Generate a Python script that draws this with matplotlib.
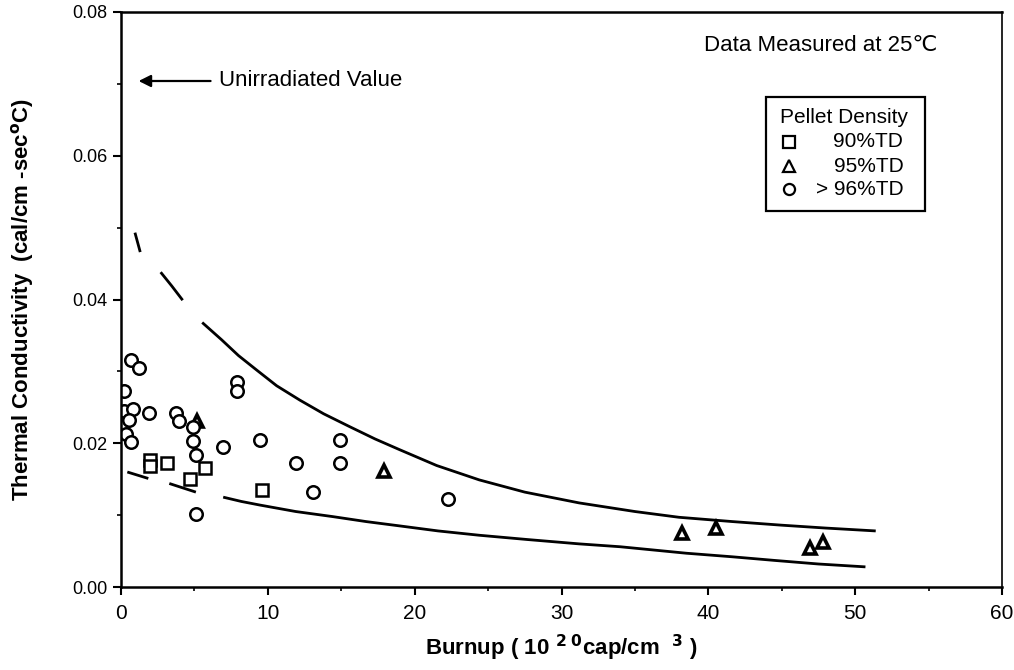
import matplotlib
matplotlib.use("Agg")
import matplotlib.pyplot as plt
from matplotlib.patches import Rectangle
from matplotlib.ticker import MultipleLocator, FormatStrFormatter
from matplotlib import font_manager

plt.rcParams['font.family'] = ['Liberation Sans', 'DejaVu Sans']
names = {f.name for f in font_manager.fontManager.ttflist}
narrow = 'Liberation Sans Narrow' if 'Liberation Sans Narrow' in names else 'Liberation Sans'

# ---- data ----
sq_x = [2.0, 2.0, 3.1, 4.7, 5.7, 9.6]
sq_y = [0.0177, 0.0168, 0.0173, 0.0150, 0.0166, 0.0135]

tri_x = [5.15, 17.9, 38.2, 40.5, 46.9, 47.8]
tri_y = [0.0231, 0.0161, 0.0075, 0.0082, 0.0054, 0.0062]

circ_x = [0.66, 1.25, 0.2, 0.2, 0.8, 0.57, 0.34, 0.66, 1.93, 3.74, 3.97, 4.88,
          4.92, 5.1, 5.1, 6.92, 7.91, 7.91, 9.46, 11.95, 13.08, 14.94, 14.94, 22.3]
circ_y = [0.0316, 0.0305, 0.0273, 0.0245, 0.0247, 0.0233, 0.0213, 0.0202, 0.0242,
          0.0242, 0.0231, 0.0222, 0.0203, 0.0184, 0.0101, 0.0195, 0.0285, 0.0273,
          0.0204, 0.0173, 0.0132, 0.0204, 0.0173, 0.0123]

# upper bound curve: two dashes then solid
up_d1_x = [0.95, 1.31]
up_d1_y = [0.0493, 0.0466]
up_d2_x = [2.70, 3.45, 4.20]
up_d2_y = [0.0438, 0.0419, 0.0399]
up_x = [5.53, 6.85, 8.0, 9.23, 10.6, 12.18, 13.8, 15.58, 17.3, 18.98, 21.5, 24.4,
        27.5, 31.2, 35.0, 38.0, 41.65, 45.0, 48.0, 51.4]
up_y = [0.0368, 0.0344, 0.0322, 0.0302, 0.0280, 0.0260, 0.0241, 0.0223, 0.0206,
        0.0191, 0.0169, 0.0149, 0.0132, 0.0117, 0.0105, 0.0097, 0.0091, 0.0086,
        0.0082, 0.0078]

# lower bound curve: two dashes then solid
lo_d1_x = [0.43, 1.86]
lo_d1_y = [0.0160, 0.0151]
lo_d2_x = [3.29, 5.1]
lo_d2_y = [0.0144, 0.0132]
lo_x = [6.96, 8.2, 9.46, 11.9, 14.4, 16.7, 18.98, 21.6, 24.4, 27.7, 31.2, 34.0,
        36.0, 38.5, 41.65, 44.5, 47.5, 50.7]
lo_y = [0.0125, 0.0119, 0.0114, 0.0105, 0.0098, 0.0091, 0.0085, 0.0078, 0.0072,
        0.0066, 0.0060, 0.0056, 0.0052, 0.0047, 0.0042, 0.0037, 0.0032, 0.0028]

x_ticks = [0, 10, 20, 30, 40, 50, 60]
y_ticks = [0.00, 0.02, 0.04, 0.06, 0.08]

fig = plt.figure(figsize=(10.14, 6.70), dpi=100)
ax = fig.add_axes([121/1014, 83/670, 881/1014, 575/670])

lw = 2.0
for xs, ys in [(up_d1_x, up_d1_y), (up_d2_x, up_d2_y), (up_x, up_y),
               (lo_d1_x, lo_d1_y), (lo_d2_x, lo_d2_y), (lo_x, lo_y)]:
    ax.plot(xs, ys, color='black', lw=lw, solid_capstyle='butt',
            solid_joinstyle='round')

mk = dict(linestyle='none', markerfacecolor='white', markeredgecolor='black',
          markeredgewidth=1.8)
ax.plot(sq_x, sq_y, marker='s', markersize=8.5, **mk)
ax.plot(tri_x, tri_y, marker='^', markersize=8.5, **dict(mk, markeredgewidth=2.6))
ax.plot(circ_x, circ_y, marker='o', markersize=9, **mk)

ax.set_xlim(0, 60)
ax.set_ylim(0, 0.08)
ax.set_xticks(x_ticks)
ax.set_yticks(y_ticks)
ax.xaxis.set_minor_locator(MultipleLocator(5))
ax.yaxis.set_minor_locator(MultipleLocator(0.01))
ax.yaxis.set_major_formatter(FormatStrFormatter('%.2f'))
ax.tick_params(axis='both', which='major', direction='out', length=6, width=1.5)
ax.tick_params(axis='both', which='minor', direction='out', length=3, width=1.2)
for lab in ax.get_xticklabels():
    lab.set_fontfamily([narrow, 'DejaVu Sans'])
    lab.set_fontsize(15)
for lab in ax.get_yticklabels():
    lab.set_fontsize(13)
ax.tick_params(axis='x', pad=6)
ax.tick_params(axis='y', pad=4)

for side in ['left', 'bottom', 'top']:
    ax.spines[side].set_linewidth(1.8)
ax.spines['right'].set_linewidth(1.2)

ax.set_xlabel('Burnup ( 10 $^{\\mathbf{2\\,\\,0}}$cap/cm  $^{\\mathbf{3}}$ )',
              fontsize=16, fontweight='bold', labelpad=7)
ax.set_ylabel('Thermal Conductivity  (cal/cm -sec$^{\\mathbf{o}}$C)',
              fontsize=16, fontweight='bold', labelpad=26)

# annotations
ax.annotate('', xy=(1.2, 0.0704), xytext=(6.1, 0.0704),
            arrowprops=dict(arrowstyle='-|>', lw=1.6, color='black',
                            mutation_scale=18, shrinkA=0, shrinkB=0))
ax.text(6.65, 0.0704, 'Unirradiated Value', fontsize=16, va='center', ha='left')
ax.text(39.7, 0.0754, 'Data Measured at 25\u2103', fontsize=16, va='center', ha='left')

# legend box
ax.add_patch(Rectangle((0.732, 0.654), 0.181, 0.198, transform=ax.transAxes,
                       fill=False, lw=1.6, edgecolor='black', clip_on=False))
ax.text(0.748, 0.816, 'Pellet Density', transform=ax.transAxes, fontsize=15,
        va='center', ha='left')
rows = [(0.774, 's', '90%TD'), (0.732, '^', '95%TD'), (0.692, 'o', '> 96%TD')]
for yy, m, lab in rows:
    ax.plot([0.758], [yy], marker=m, markersize=8, linestyle='none',
            markerfacecolor='white', markeredgecolor='black', markeredgewidth=1.6,
            transform=ax.transAxes, clip_on=False)
    ax.text(0.888, yy, lab, transform=ax.transAxes, fontsize=15, va='center',
            ha='right')

fig.savefig('out.png', dpi=100)
